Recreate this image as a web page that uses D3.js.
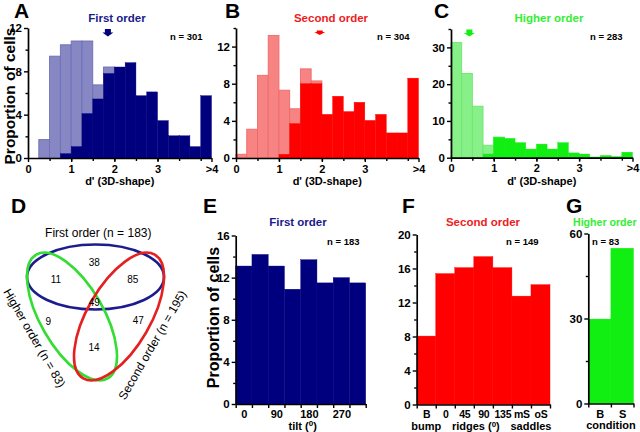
<!DOCTYPE html>
<html><head><meta charset="utf-8">
<script src="https://cdn.jsdelivr.net/npm/d3@7"></script>
<style>
body{margin:0;background:#fff}
svg{display:block}
text{font-family:'Liberation Sans',Arial,Helvetica,sans-serif}
</style>
</head><body>
<svg id="c" width="640" height="432"></svg>
<script>
// ---------------- DATA ----------------
const binWidth = 0.25;
const dTickValues = [0, 1, 2, 3, 4.25];
const dTickLabels = ["0", "1", "2", "3", ">4"];

const firstLight  = [0, 1.7, 9.4, 10.45, 10.8, 10.8, 6.75, 8.4, 0, 0, 0, 0, 0, 0, 0, 0, 0];
const firstDark   = [0, 0, 0, 0.4, 1.05, 4.1, 5.45, 7.8, 8.4, 8.8, 5.75, 6.1, 3.45, 2.05, 2.05, 1.05, 5.75];
const secondLight = [0.4, 3.1, 8.9, 13.2, 7.3, 5.3, 9.6, 8.3, 0, 0, 0, 0, 0, 0, 0, 0, 0];
const secondDark  = [0, 0, 0, 0, 0.4, 3.7, 8.0, 8.0, 4.7, 6.65, 5.0, 6.0, 4.05, 4.7, 2.7, 2.7, 8.6];
const higherLight = [31.3, 22.9, 14.0, 3.4, 5.6, 0, 0, 0, 0, 0, 0, 0, 0, 0, 0, 0, 0];
const higherDark  = [0, 0, 0, 1.0, 5.5, 5.25, 4.1, 2.35, 3.7, 2.35, 4.1, 1.3, 1.0, 0.2, 0.6, 0.3, 1.5];
const meanFirst = 1.85, meanSecond = 1.95, meanHigher = 0.43;
const nHist = [301, 304, 283];

const tiltCats   = ["0", "45", "90", "135", "180", "225", "270", "315"];
const tiltShown  = ["0", "90", "180", "270"];
const tiltValues = [13.1, 14.2, 13.1, 10.9, 13.7, 11.5, 12.0, 11.5];
const secondCats   = ["B", "0", "45", "90", "135", "mS", "oS"];
const secondValues = [8.05, 15.4, 16.1, 17.4, 16.1, 12.75, 14.1];
const secondGroups = [["bump", 0, 1], ["ridges", 1, 5], ["saddles", 5, 7]];
const higherCats   = ["B", "S"];
const higherValues = [29.8, 54.8];
const nCat = [183, 149, 83];

const vennTitles = ["First order (n = 183)", "Higher order (n = 83)", "Second order (n = 195)"];
const vennCounts = [38, 11, 85, 49, 9, 47, 14];

// ---------------- STYLE ----------------
const NAVY = "#00007f", RED = "#ff0000", GREEN = "#11ee11";
const svg = d3.select("#c");

function styleAxis(g, fs) {
  g.selectAll("path.domain").attr("stroke", "#000").attr("stroke-width", 1.7);
  g.selectAll(".tick line").attr("stroke", "#000").attr("stroke-width", 1.4);
  g.selectAll(".tick text").attr("font-family", "'Liberation Sans',Arial,sans-serif")
    .attr("font-size", fs).attr("font-weight", "bold").attr("fill", "#000");
  g.attr("font-size", null).attr("font-family", null);
}

function label(txt, x, y, opts = {}) {
  const t = svg.append("text").attr("x", x).attr("y", y).text(txt)
    .attr("font-size", opts.size || 11).attr("font-weight", opts.weight || "bold")
    .attr("fill", opts.fill || "#000").attr("text-anchor", opts.anchor || "start");
  if (opts.rotate !== undefined) t.attr("transform", `rotate(${opts.rotate},${x},${y})`);
  return t;
}

function dPanel(c) {
  const g = svg.append("g");
  const x = d3.scaleLinear().domain([0, 4.25]).range([c.x0, c.x1]);
  const y = d3.scaleLinear().domain([0, c.ymax]).range([c.yb, c.yt]);
  const bw = x(binWidth) - x(0);
  g.selectAll("rect.l").data(c.light.map((v, i) => ({v, i})).filter(d => d.v > 0)).join("rect")
    .attr("x", d => x(d.i * binWidth)).attr("width", bw)
    .attr("y", d => y(d.v)).attr("height", d => y(0) - y(d.v))
    .attr("fill", c.lightFill).attr("stroke", c.lightStroke).attr("stroke-width", 0.9);
  g.selectAll("rect.d").data(c.dark.map((v, i) => ({v, i})).filter(d => d.v > 0)).join("rect")
    .attr("x", d => x(d.i * binWidth)).attr("width", bw)
    .attr("y", d => y(d.v)).attr("height", d => y(0) - y(d.v))
    .attr("fill", c.color).attr("stroke", c.color).attr("stroke-width", 0.4);
  // arrow marking mean
  const ax = x(c.mean), a0 = c.arrowY;
  g.append("path").attr("fill", c.color)
    .attr("d", `M${ax - 3},${a0} h6 v${c.arrowH} h2.5 l-5.5,${c.arrowT} l-5.5,${-c.arrowT} h2.5 z`);
  // axes
  const ym = g.append("g").attr("transform", `translate(${c.x0},0)`)
    .call(d3.axisLeft(y).tickValues(c.yMinor).tickSize(2.5).tickFormat(""));
  const ya = g.append("g").attr("transform", `translate(${c.x0},0)`)
    .call(d3.axisLeft(y).tickValues(c.yMajor).tickSize(4).tickSizeOuter(0).tickPadding(2));
  const xm = g.append("g").attr("transform", `translate(0,${c.yb})`)
    .call(d3.axisBottom(x).tickValues(d3.range(0.5, 4.1, 0.5)).tickSize(3).tickFormat(""));
  const xa = g.append("g").attr("transform", `translate(0,${c.yb})`)
    .call(d3.axisBottom(x).tickValues(dTickValues).tickFormat((d, i) => dTickLabels[i])
      .tickSize(4).tickSizeOuter(0).tickPadding(3));
  [ym, ya, xm, xa].forEach(a => styleAxis(a, 11));
  ya.selectAll(".tick text").attr("font-size", 11.5);
  xm.select("path.domain").remove(); ym.select("path.domain").remove();
  label("d' (3D-shape)", (c.x0 + c.x1) / 2, c.yb + 27, {anchor: "middle", size: 11});
  label(c.title, c.titleX, 22, {anchor: "middle", size: 11.5, fill: c.titleFill});
  label("n = " + c.n, c.nX, 40, {size: 9.5});
}

dPanel({x0: 28, x1: 211.5, yb: 158, yt: 28, ymax: 12, yMajor: [0, 4, 8, 12], yMinor: [2, 6, 10],
  light: firstLight, dark: firstDark, color: NAVY, lightFill: "#8787c4", lightStroke: "#6f6fb5",
  mean: meanFirst, arrowY: 29, arrowH: 3.5, arrowT: 4, title: "First order", titleX: 117, titleFill: "#1a1a8c",
  n: nHist[0], nX: 170});
dPanel({x0: 236, x1: 418.5, yb: 158, yt: 28, ymax: 14, yMajor: [0, 4, 8, 12], yMinor: [2, 6, 10, 14],
  light: secondLight, dark: secondDark, color: RED, lightFill: "#f88383", lightStroke: "#ef6a6a",
  mean: meanSecond, arrowY: 30.5, arrowH: 1.5, arrowT: 3, title: "Second order", titleX: 331, titleFill: "#ee1c1c",
  n: nHist[1], nX: 377});
dPanel({x0: 451, x1: 632.5, yb: 157.7, yt: 29, ymax: 35, yMajor: [0, 10, 20, 30], yMinor: [5, 15, 25, 35],
  light: higherLight, dark: higherDark, color: GREEN, lightFill: "#88f088", lightStroke: "#6ee66e",
  mean: meanHigher, arrowY: 29.5, arrowH: 3.5, arrowT: 3.5, title: "Higher order", titleX: 549, titleFill: "#33ee33",
  n: nHist[2], nX: 590});

function catPanel(c) {
  const g = svg.append("g");
  const n = c.values.length;
  const x = d3.scaleLinear().domain([0, n]).range([c.x0, c.x1]);
  const y = d3.scaleLinear().domain([0, c.ymax]).range([c.yb, c.yt]);
  g.selectAll("rect").data(c.values.map((v, i) => ({v, i}))).join("rect")
    .attr("x", d => x(d.i)).attr("width", x(1) - x(0))
    .attr("y", d => y(d.v)).attr("height", d => y(0) - y(d.v))
    .attr("fill", c.color).attr("stroke", c.color).attr("stroke-width", 0.4);
  const ym = g.append("g").attr("transform", `translate(${c.x0},0)`)
    .call(d3.axisLeft(y).tickValues(c.yMinor).tickSize(2.5).tickFormat(""));
  const ya = g.append("g").attr("transform", `translate(${c.x0},0)`)
    .call(d3.axisLeft(y).tickValues(c.yMajor).tickSize(4).tickSizeOuter(0).tickPadding(2));
  const xe = g.append("g").attr("transform", `translate(0,${c.yb})`)
    .call(d3.axisBottom(x).tickValues(d3.range(0, n + 1)).tickSize(4).tickSizeOuter(0).tickFormat(""));
  const shown = c.cats.map((s, i) => ({s, i})).filter(d => c.shown.includes(d.s));
  const xl = g.append("g").attr("transform", `translate(0,${c.yb})`)
    .call(d3.axisBottom(x).tickValues(shown.map(d => d.i + 0.5))
      .tickFormat((d, k) => shown[k].s).tickSize(0).tickPadding(6.5));
  [ym, ya, xe, xl].forEach(a => styleAxis(a, 11));
  ya.selectAll(".tick text").attr("font-size", 11.5);
  if (c.tickFont) xl.selectAll(".tick text").attr("font-size", c.tickFont).attr("letter-spacing", -0.3);
  xl.select("path.domain").remove(); ym.select("path.domain").remove();
  c.groups.forEach(([name, a, b]) => {
    const t = label(name, x((a + b) / 2) + (c.degree === name ? 2 : 0), c.yb + 25.5, {anchor: "middle", size: 11});
    if (c.degree === name) {
      t.text(name + " (");
      t.append("tspan").attr("dy", -3.5).attr("font-size", 8).text("0");
      t.append("tspan").attr("dy", 3.5).text(")");
    }
  });
  label(c.title, c.titleX, 226, {anchor: c.titleAnchor, size: c.titleSize || 11.5, fill: c.titleFill});
  label("n = " + c.n, c.nX, 245, {size: 9.5});
}

catPanel({x0: 235.7, x1: 365.7, yb: 404, yt: 235.5, ymax: 16, yMajor: [0, 4, 8, 12, 16], yMinor: [2, 6, 10, 14],
  values: tiltValues, cats: tiltCats, shown: tiltShown, color: NAVY,
  groups: [["tilt", 0, 8]], degree: "tilt",
  title: "First order", titleX: 298, titleAnchor: "middle", titleFill: "#1a1a8c", n: nCat[0], nX: 327});
catPanel({x0: 416.7, x1: 550, yb: 404.5, yt: 234.5, ymax: 20, yMajor: [0, 4, 8, 12, 16, 20], yMinor: [2, 6, 10, 14, 18],
  values: secondValues, cats: secondCats, shown: secondCats, color: RED, tickFont: 10.5,
  groups: secondGroups, degree: "ridges",
  title: "Second order", titleX: 483, titleAnchor: "middle", titleFill: "#ee1c1c", n: nCat[1], nX: 506});
catPanel({x0: 588.3, x1: 633.5, yb: 403.5, yt: 233.5, ymax: 60, yMajor: [0, 30, 60], yMinor: [15, 45],
  values: higherValues, cats: higherCats, shown: higherCats, color: GREEN,
  groups: [["condition", 0, 2]], degree: null,
  title: "Higher order", titleX: 573, titleAnchor: "start", titleSize: 10.6, titleFill: "#33ee33", n: nCat[2], nX: 592});

// y-axis titles
label("Proportion of cells", 14.5, 96, {anchor: "middle", size: 15.5, rotate: -90});
label("Proportion of cells", 218.5, 317.5, {anchor: "middle", size: 16, rotate: -90});

// ---------------- VENN ----------------
const venn = svg.append("g");
const ell = [
  {cx: 95.5, cy: 277, rx: 68.5, ry: 32.5, rot: 0, stroke: "#1c1c8c"},
  {cx: 72, cy: 316.5, rx: 71.5, ry: 31.5, rot: 60, stroke: "#33dd33"},
  {cx: 119, cy: 316.5, rx: 71.5, ry: 31.5, rot: -60, stroke: "#e52020"}
];
venn.selectAll("ellipse").data(ell).join("ellipse")
  .attr("cx", d => d.cx).attr("cy", d => d.cy).attr("rx", d => d.rx).attr("ry", d => d.ry)
  .attr("transform", d => `rotate(${d.rot},${d.cx},${d.cy})`)
  .attr("fill", "none").attr("stroke", d => d.stroke).attr("stroke-width", 2.6);
const countPos = [[94.3, 262.7], [56, 279.3], [132.7, 279.3], [94.3, 302.5], [48.3, 321], [138.3, 320], [94, 347.7]];
venn.selectAll("text.cnt").data(vennCounts).join("text")
  .attr("x", (d, i) => countPos[i][0]).attr("y", (d, i) => countPos[i][1]).attr("dy", "0.35em")
  .attr("text-anchor", "middle").attr("font-size", 10).attr("fill", "#000").text(d => d);
label(vennTitles[0], 98.3, 236.5, {anchor: "middle", size: 12, weight: "normal"});
label(vennTitles[1], 34.5, 338, {anchor: "middle", size: 12, weight: "normal", rotate: 60}).attr("dy", "0.35em");
label(vennTitles[2], 152.3, 345, {anchor: "middle", size: 12, weight: "normal", rotate: -60}).attr("dy", "0.35em");

// ---------------- PANEL LETTERS ----------------
[["A", 14, 17.5], ["B", 225, 17.5], ["C", 434, 17.5], ["D", 11, 213], ["E", 203, 213], ["F", 402, 213], ["G", 566, 213]]
  .forEach(([t, x, y]) => label(t, x, y, {size: 21}));
</script>
</body></html>
